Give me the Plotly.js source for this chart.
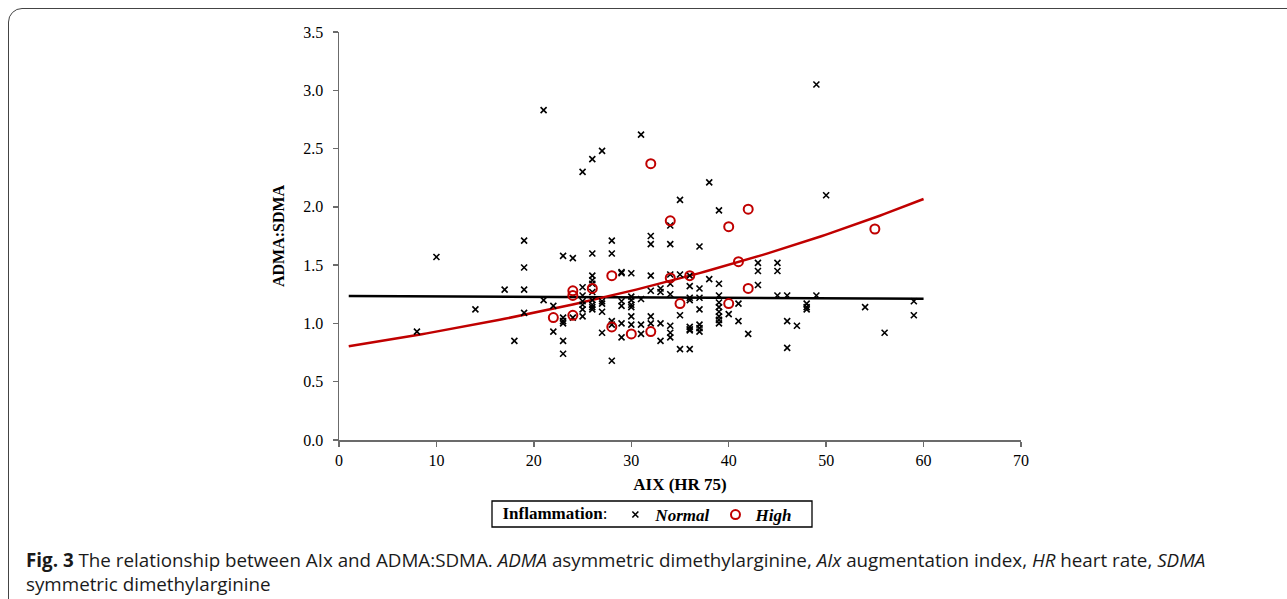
<!DOCTYPE html>
<html>
<head>
<meta charset="utf-8">
<script src="https://cdn.plot.ly/plotly-3.0.1.min.js"></script>
<style>
  html, body { margin: 0; padding: 0; background: #fff; overflow: hidden; }
  #frame { position: absolute; left: 8px; top: 8px; width: 1320px; height: 640px;
           border: 1.5px solid #444; border-radius: 14px; box-sizing: border-box; }
  #chart { position: absolute; left: 0; top: 0; width: 1287px; height: 599px; }
</style>
</head>
<body>
<div id="frame"></div>
<div id="chart"></div>
<script>
// ---- Data ----
const normalX = [8, 10, 14, 17, 18,
  19, 19, 19, 19,
  21, 21,
  22, 22,
  23, 23, 23, 23, 23, 23,
  24, 24,
  25, 25, 25, 25, 25, 25, 25,
  26, 26, 26, 26, 26, 26, 26, 26, 26, 26,
  27, 27, 27, 27, 27,
  28, 28, 28, 28, 28,
  29, 29, 29, 29, 29, 29,
  30, 30, 30, 30, 30, 30, 30,
  31, 31, 31, 31,
  32, 32, 32, 32, 32, 32,
  33, 33, 33, 33,
  34, 34, 34, 34, 34, 34, 34, 34,
  35, 35, 35, 35,
  36, 36, 36, 36, 36, 36, 36, 36,
  37, 37, 37, 37, 37, 37, 37,
  38, 38,
  39, 39, 39, 39, 39, 39, 39, 39, 39,
  40, 41, 41, 42,
  43, 43, 43,
  45, 45, 45,
  46, 46, 46,
  47,
  48, 48, 48,
  49, 49,
  50, 54, 56,
  59, 59];
const normalY = [0.93, 1.57, 1.12, 1.29, 0.85,
  1.71, 1.48, 1.29, 1.09,
  2.83, 1.20,
  1.15, 0.93,
  1.58, 1.05, 1.02, 1.00, 0.85, 0.74,
  1.56, 1.05,
  2.30, 1.31, 1.24, 1.19, 1.16, 1.12, 1.06,
  2.41, 1.60, 1.41, 1.37, 1.34, 1.27, 1.20, 1.16, 1.14, 1.12,
  2.48, 1.19, 1.17, 1.10, 0.92,
  1.71, 1.60, 1.02, 0.99, 0.68,
  1.44, 1.43, 1.19, 1.15, 1.00, 0.88,
  1.43, 1.23, 1.20, 1.16, 1.14, 1.06, 0.99,
  2.62, 1.21, 0.99, 0.91,
  1.75, 1.68, 1.41, 1.28, 1.06, 1.00,
  1.30, 1.27, 1.00, 0.85,
  1.84, 1.68, 1.42, 1.34, 1.25, 0.98, 0.92, 0.88,
  2.06, 1.42, 1.07, 0.78,
  1.41, 1.32, 1.22, 1.20, 0.97, 0.95, 0.94, 0.78,
  1.66, 1.30, 1.22, 1.12, 0.99, 0.96, 0.93,
  2.21, 1.38,
  1.97, 1.34, 1.24, 1.18, 1.14, 1.10, 1.06, 1.03, 1.00,
  1.08, 1.17, 1.02, 0.91,
  1.52, 1.45, 1.33,
  1.52, 1.45, 1.24,
  1.24, 1.02, 0.79,
  0.98,
  1.17, 1.14, 1.12,
  3.05, 1.24,
  2.10, 1.14, 0.92,
  1.19, 1.07];

const highX = [22, 24, 24, 24, 26, 28, 28, 30, 32, 32, 34, 34, 35, 36, 40, 40, 41, 42, 42, 55];
const highY = [1.05, 1.28, 1.24, 1.07, 1.30, 1.41, 0.97, 0.91, 2.37, 0.93, 1.88, 1.39, 1.17, 1.41, 1.83, 1.17, 1.53, 1.98, 1.30, 1.81];

const xTicks = [0, 10, 20, 30, 40, 50, 60, 70];
const yTicks = [0.0, 0.5, 1.0, 1.5, 2.0, 2.5, 3.0, 3.5];
const groupNames = ['Normal', 'High'];
const legendTitle = 'Inflammation';

// ---- Exponential trend lines (least squares on ln y), as in a spreadsheet trendline ----
function expFit(xs, ys) {
  const n = xs.length;
  const ls = ys.map(v => Math.log(v));
  const mx = xs.reduce((s, v) => s + v, 0) / n;
  const ml = ls.reduce((s, v) => s + v, 0) / n;
  let sxy = 0, sxx = 0;
  for (let i = 0; i < n; i++) { sxy += (xs[i] - mx) * (ls[i] - ml); sxx += (xs[i] - mx) ** 2; }
  const b = sxy / sxx;
  const a = Math.exp(ml - b * mx);
  return x => a * Math.exp(b * x);
}
const lineStart = 1, lineEnd = 60;
const lineXs = [];
for (let x = lineStart; x <= lineEnd + 1e-9; x += 0.5) lineXs.push(x);
const fNormal = expFit(normalX, normalY);
const fHigh = expFit(highX, highY);

const RED = '#c00000';
const serif = 'Liberation Serif, Times New Roman, serif';

const traces = [
  { x: lineXs, y: lineXs.map(fNormal), mode: 'lines', type: 'scatter', showlegend: false,
    line: { color: '#000', width: 2.5 }, hoverinfo: 'skip' },
  { x: lineXs, y: lineXs.map(fHigh), mode: 'lines', type: 'scatter', showlegend: false,
    line: { color: RED, width: 2.5 }, hoverinfo: 'skip' },
  { x: normalX, y: normalY, name: '<b><i>' + groupNames[0] + '</i></b>', mode: 'markers', type: 'scatter',
    marker: { symbol: 'x-thin', size: 6, color: '#000', line: { color: '#000', width: 1.6 } } },
  { x: highX, y: highY, name: '<b><i>' + groupNames[1] + '</i></b>', mode: 'markers', type: 'scatter',
    marker: { symbol: 'circle-open', size: 9, color: RED, line: { color: RED, width: 2 } } }
];

const axisCol = '#6b6b6b';
const px2x = p => (p - 339) / 682;
const py2y = p => (440 - p) / 408;
const layout = {
  width: 1287, height: 599,
  margin: { l: 339, r: 266, t: 32, b: 159 },
  paper_bgcolor: 'rgba(0,0,0,0)',
  plot_bgcolor: 'rgba(0,0,0,0)',
  font: { family: serif, size: 16, color: '#000' },
  xaxis: {
    range: [0, 70], tickvals: xTicks, ticktext: xTicks.map(String),
    showgrid: false, zeroline: false, showline: true, linecolor: axisCol, linewidth: 1.5,
    ticks: 'outside', ticklen: 5, tickcolor: axisCol, tickwidth: 1.5,
    tickfont: { family: serif, size: 16 },
    title: { text: '<b>AIX (HR 75)</b>', font: { family: serif, size: 17 }, standoff: 10 }
  },
  yaxis: {
    range: [0, 3.5], tickvals: yTicks, ticktext: yTicks.map(v => v.toFixed(1)),
    showgrid: false, zeroline: false, showline: true, linecolor: axisCol, linewidth: 1.5,
    ticks: 'outside', ticklen: 5, tickcolor: axisCol, tickwidth: 1.5,
    ticklabelstandoff: 6,
    tickfont: { family: serif, size: 16 },
    title: { text: '<b>ADMA:SDMA</b>', font: { family: serif, size: 16 }, standoff: 14 }
  },
  showlegend: true,
  legend: {
    orientation: 'h', x: px2x(649), xanchor: 'center', y: py2y(515), yanchor: 'middle',
    borderwidth: 0, bgcolor: 'rgba(0,0,0,0)',
    font: { family: serif, size: 17 },
    title: { text: '<b>' + legendTitle + '</b>:', font: { family: serif, size: 17 }, side: 'left' },
    itemwidth: 30, tracegroupgap: 0
  },
  shapes: [{
    type: 'rect', xref: 'paper', yref: 'paper',
    x0: px2x(492), x1: px2x(812), y0: py2y(501), y1: py2y(527),
    line: { color: '#000', width: 1.3 }, fillcolor: 'rgba(0,0,0,0)', layer: 'below'
  }],
  annotations: [{
    xref: 'paper', yref: 'paper', x: px2x(24), y: py2y(545), xanchor: 'left', yanchor: 'top', align: 'left',
    showarrow: false,
    font: { family: 'Open Sans, Noto Sans, sans-serif', size: 18.8, color: '#1a1a1a' },
    text: '<b>Fig. 3</b> The relationship between AIx and ADMA:SDMA. <i>ADMA</i> asymmetric dimethylarginine, <i>AIx</i> augmentation index, <i>HR</i> heart rate, <i>SDMA</i><br>symmetric dimethylarginine'
  }]
};

Plotly.newPlot('chart', traces, layout, { displayModeBar: false, staticPlot: true });
</script>
</body>
</html>
